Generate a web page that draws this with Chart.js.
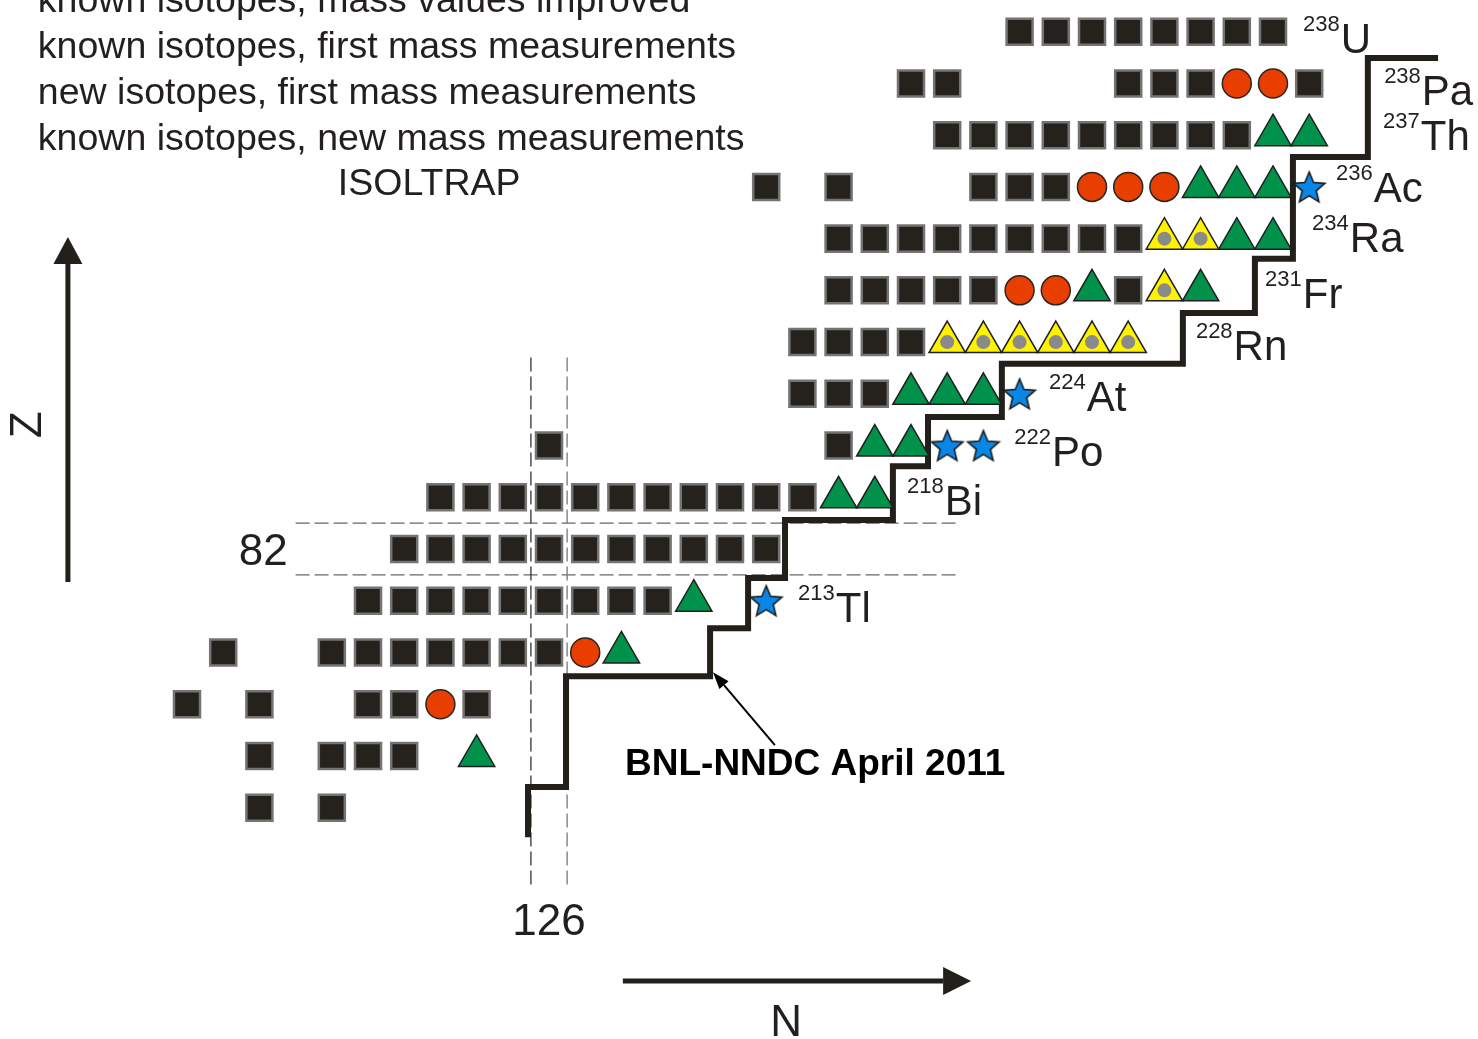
<!DOCTYPE html>
<html>
<head>
<meta charset="utf-8">
<title>ISOLTRAP mass measurements around N=126</title>
<script src="https://cdn.jsdelivr.net/npm/chart.js"></script>
<style>
  html, body { margin: 0; padding: 0; background: #fff; }
  #wrap { width: 1478px; height: 1039px; position: relative; }
</style>
</head>
<body>
<div id="wrap"><canvas id="chart"></canvas></div>
<script>
// each row: [Z, [N, N, ...]]
const knownMasses = [
  [92, [139, 140, 141, 142, 143, 144, 145, 146]],
  [91, [136, 137, 142, 143, 144, 147]],
  [90, [137, 138, 139, 140, 141, 142, 143, 144, 145]],
  [89, [132, 134, 138, 139, 140]],
  [88, [134, 135, 136, 137, 138, 139, 140, 141, 142]],
  [87, [134, 135, 136, 137, 138, 142]],
  [86, [133, 134, 135, 136]],
  [85, [133, 134, 135]],
  [84, [126, 134]],
  [83, [123, 124, 125, 126, 127, 128, 129, 130, 131, 132, 133]],
  [82, [122, 123, 124, 125, 126, 127, 128, 129, 130, 131, 132]],
  [81, [121, 122, 123, 124, 125, 126, 127, 128, 129]],
  [80, [117, 120, 121, 122, 123, 124, 125, 126]],
  [79, [116, 118, 121, 122, 124]],
  [78, [118, 120, 121, 122]],
  [77, [118, 120]]
];
const massImproved = [
  [91, [145, 146]],
  [89, [141, 142, 143]],
  [87, [139, 140]],
  [80, [127]],
  [79, [123]]
];
const firstMass = [
  [90, [146, 147]],
  [89, [144, 145, 146]],
  [88, [145, 146]],
  [87, [141, 144]],
  [85, [136, 137, 138]],
  [84, [135, 136]],
  [83, [134, 135]],
  [81, [130]],
  [80, [128]],
  [78, [124]]
];
const newIsotopes = [
  [89, [147]],
  [85, [139]],
  [84, [137, 138]],
  [81, [132]]
];
const newMass = [
  [88, [143, 144]],
  [87, [143]],
  [86, [137, 138, 139, 140, 141, 142]]
];

// BNL-NNDC April 2011 limit (staircase)
const stepN = [125.42, 125.42, 126.47, 126.47, 130.45, 130.45, 131.5, 131.5, 132.52, 132.52, 135.5, 135.5,
               136.47, 136.47, 138.51, 138.51, 143.51, 143.51, 145.5, 145.5, 146.55, 146.55, 148.62, 148.62, 150.56];
const stepZ = [76.43, 77.4, 77.4, 79.54, 79.54, 80.47, 80.47, 81.44, 81.44, 82.56, 82.56, 83.6,
               83.6, 84.55, 84.55, 85.58, 85.58, 86.56, 86.56, 87.61, 87.61, 89.58, 89.58, 91.49, 91.49];

// magic numbers, cell borders shown dashed
const magicN = 126;
const magicZ = 82;

const isoMass = ['238', '238', '237', '236', '234', '231', '228', '224', '222', '218', '213'];
const isoName = ['U', 'Pa', 'Th', 'Ac', 'Ra', 'Fr', 'Rn', 'At', 'Po', 'Bi', 'Tl'];

const legendLines = [
  'known isotopes, mass values improved',
  'known isotopes, first mass measurements',
  'new isotopes, first mass measurements',
  'known isotopes, new mass measurements'
];

// label placement (N of left edge, Z of baseline)
const labelN = [146.83, 149.07, 149.04, 147.74, 147.08, 145.78, 143.87, 139.81, 138.85, 135.89, 132.88];
const labelZ = [91.59, 90.58, 89.71, 88.70, 87.74, 86.66, 85.65, 84.67, 83.60, 82.66, 80.59];

const FONT = "'Liberation Sans', Arial, Helvetica, sans-serif";
const INK = '#231f20';

function cells(rows) {
  return rows.flatMap(([z, ns]) => ns.map(n => ({ x: n, y: z })));
}

function starImage() {
  const c = document.createElement('canvas');
  c.width = 40; c.height = 40;
  const g = c.getContext('2d');
  const R = 16.5, r = 7.4, cx = 20, cy = 21.5;
  g.beginPath();
  for (let i = 0; i < 10; i++) {
    const a = -Math.PI / 2 + i * Math.PI / 5;
    const rr = i % 2 ? r : R;
    g.lineTo(cx + Math.cos(a) * rr, cy + Math.sin(a) * rr);
  }
  g.closePath();
  g.fillStyle = '#0a86e6';
  g.fill();
  g.lineWidth = 1.6;
  g.strokeStyle = '#1c1c1c';
  g.lineJoin = 'miter';
  g.stroke();
  return c;
}

function guide(points, color) {
  return {
    data: points, showLine: true, borderColor: color, borderWidth: 1.3,
    borderDash: [14, 5], pointRadius: 0, order: 9, clip: false
  };
}

const stepLine = stepN.map((n, i) => ({ x: n, y: stepZ[i] }));

function arrow(ctx, x1, y1, x2, y2, head, half, width) {
  const a = Math.atan2(y2 - y1, x2 - x1);
  const bx = x2 - Math.cos(a) * head, by = y2 - Math.sin(a) * head;
  ctx.lineWidth = width;
  ctx.beginPath(); ctx.moveTo(x1, y1); ctx.lineTo(bx, by); ctx.stroke();
  ctx.beginPath();
  ctx.moveTo(x2, y2);
  ctx.lineTo(bx + Math.sin(a) * half, by - Math.cos(a) * half);
  ctx.lineTo(bx - Math.sin(a) * half, by + Math.cos(a) * half);
  ctx.closePath(); ctx.fill();
}

const textPlugin = {
  id: 'chartText',
  afterDatasetsDraw(chart) {
    const ctx = chart.ctx;
    const px = v => chart.scales.x.getPixelForValue(v);
    const py = v => chart.scales.y.getPixelForValue(v);
    ctx.save();
    ctx.fillStyle = INK;
    ctx.strokeStyle = '#231f1a';

    // legend text (symbols sit beyond the left edge)
    ctx.font = '37.5px ' + FONT;
    ctx.textAlign = 'left';
    ctx.textBaseline = 'alphabetic';
    legendLines.forEach((t, i) => ctx.fillText(t, px(111.88), py(92.38 - i * 0.889)));
    ctx.textAlign = 'center';
    ctx.fillText('ISOLTRAP', px(122.69), py(88.84));

    // element labels
    ctx.textAlign = 'left';
    isoName.forEach((name, i) => {
      const x = px(labelN[i]), y = py(labelZ[i]);
      ctx.font = '22px ' + FONT;
      ctx.fillText(isoMass[i], x, y - 22);
      const w = ctx.measureText(isoMass[i]).width;
      ctx.font = '42px ' + FONT;
      ctx.fillText(name, x + w + 1, y);
    });

    // magic numbers
    ctx.font = '44px ' + FONT;
    ctx.textAlign = 'right';
    ctx.fillText(String(magicZ), px(119.0) - 8, py(magicZ) + 16);
    ctx.textAlign = 'center';
    ctx.fillText(String(magicN), px(magicN), py(74.54));

    // axis arrows and titles
    ctx.fillStyle = '#231f1a';
    arrow(ctx, px(112.71), py(81.36), px(112.71), py(88.03), 27, 14.5, 5);
    arrow(ctx, px(128.04), py(73.65), px(137.66), py(73.65), 28, 14, 5);
    ctx.fillStyle = INK;
    ctx.font = '44px ' + FONT;
    ctx.textAlign = 'center';
    ctx.fillText('N', px(132.55), py(72.58));
    ctx.save();
    ctx.translate(px(111.64), py(84.4));
    ctx.rotate(-Math.PI / 2);
    ctx.textBaseline = 'middle';
    ctx.fillText('Z', 0, 0);
    ctx.restore();

    // evaluation annotation
    ctx.fillStyle = '#000';
    ctx.strokeStyle = '#000';
    arrow(ctx, px(132.24), py(78.21), px(130.53), py(79.62), 17, 6, 2);
    ctx.font = 'bold 37px ' + FONT;
    ctx.textAlign = 'left';
    ctx.fillText('BNL-NNDC April 2011', px(128.1), py(77.63));
    ctx.restore();
  }
};

new Chart(document.getElementById('chart'), {
  type: 'scatter',
  data: {
    datasets: [
      {
        label: 'new isotopes, first mass measurements',
        data: cells(newIsotopes), pointStyle: starImage(), pointRadius: 16, order: 1, clip: false
      },
      {
        label: 'new mass measurement marker',
        data: cells(newMass), pointStyle: 'circle', pointRadius: 7,
        backgroundColor: '#8a8a8a', borderWidth: 0, order: 2, clip: false
      },
      {
        label: 'known isotopes, new mass measurements',
        data: cells(newMass), pointStyle: 'triangle', pointRadius: 21,
        backgroundColor: '#fff200', borderColor: '#1f1f1f', borderWidth: 1.5, order: 3, clip: false
      },
      {
        label: 'known isotopes, first mass measurements',
        data: cells(firstMass), pointStyle: 'triangle', pointRadius: 21,
        backgroundColor: '#00924a', borderColor: '#1f1f1f', borderWidth: 1.5, order: 4, clip: false
      },
      {
        label: 'known isotopes, mass values improved',
        data: cells(massImproved), pointStyle: 'circle', pointRadius: 14.5,
        backgroundColor: '#e83e00', borderColor: '#2b2621', borderWidth: 1.5, order: 5, clip: false
      },
      {
        label: 'known masses',
        data: cells(knownMasses), pointStyle: 'rect', pointRadius: 18.4,
        backgroundColor: '#25221d', borderColor: '#747474', borderWidth: 2.5, order: 6, clip: false
      },
      {
        label: 'BNL-NNDC April 2011',
        data: stepLine, showLine: true, borderColor: '#231f1a', borderWidth: 6,
        borderJoinStyle: 'miter', borderCapStyle: 'butt', pointRadius: 0, tension: 0, order: 7, clip: false
      },
      guide([{ x: magicN - 0.5, y: 85.7 }, { x: magicN - 0.5, y: 75.5 }], '#333'),
      guide([{ x: magicN + 0.5, y: 85.7 }, { x: magicN + 0.5, y: 75.5 }], '#777'),
      guide([{ x: 119.0, y: magicZ + 0.5 }, { x: 137.25, y: magicZ + 0.5 }], '#666'),
      guide([{ x: 119.0, y: magicZ - 0.5 }, { x: 137.25, y: magicZ - 0.5 }], '#666')
    ]
  },
  options: {
    responsive: true,
    maintainAspectRatio: false,
    animation: false,
    events: [],
    layout: { padding: 0, autoPadding: false },
    plugins: { legend: { display: false }, tooltip: { enabled: false }, title: { display: false } },
    scales: {
      x: { type: 'linear', display: false, min: 110.834, max: 151.663 },
      y: { type: 'linear', display: false, min: 72.528, max: 92.613 }
    }
  },
  plugins: [textPlugin]
});
</script>
</body>
</html>
